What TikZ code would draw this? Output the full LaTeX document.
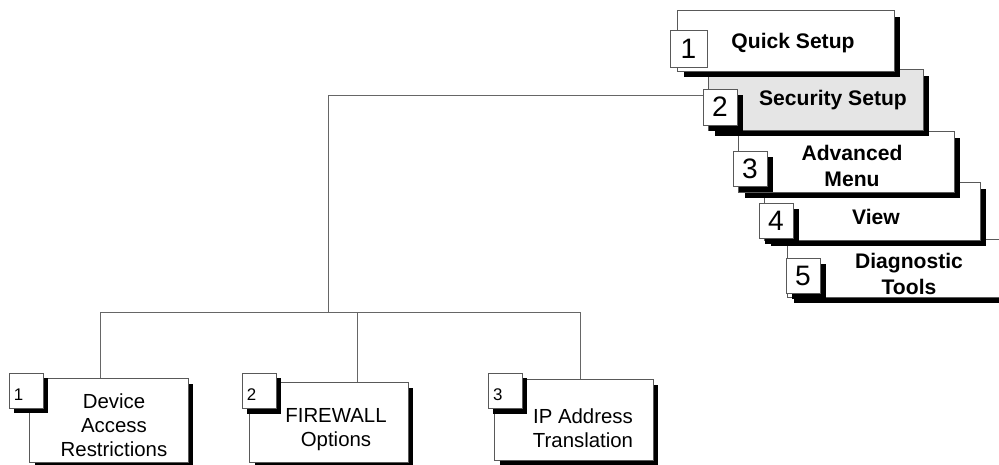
\documentclass[tikz,border=0pt]{standalone}
\usepackage{fontspec}
\setmainfont{Liberation Sans}
\usetikzlibrary{shadows}

\begin{document}
\begin{tikzpicture}[
  x=0.025cm, y=-0.025cm,
  solidshadow/.style={drop shadow={shadow xshift=#1, shadow yshift=-#1, fill=black, opacity=1}},
  menu/.style={draw=black!65, line width=0.7pt, fill=white, inner sep=0pt, minimum width=5.375cm, minimum height=1.5cm, solidshadow=0.15cm},
  menunum/.style={draw=black!65, line width=0.7pt, fill=white, inner sep=0pt, minimum width=0.85cm, minimum height=0.875cm, font=\fontsize{20}{24}\selectfont},
  menutxt/.style={align=center, inner sep=0pt, font=\bfseries\fontsize{15}{18}\selectfont},
  item/.style={draw=black!65, line width=0.7pt, fill=white, inner sep=0pt, minimum width=3.95cm, minimum height=2cm, solidshadow=0.125cm},
  itemnum/.style={draw=black!65, line width=0.7pt, fill=white, inner xsep=0.1cm, inner ysep=0pt, text width=0.6cm, align=left, minimum width=0.85cm, minimum height=0.875cm, text height=13.6pt, text depth=0pt, font=\fontsize{12}{14}\selectfont, solidshadow=0.125cm},
  itemtxt/.style={align=center, inner sep=0pt, font=\fontsize{14.5}{17}\selectfont},
  link/.style={draw=black!60, line width=0.7pt}
]
\useasboundingbox (0,0) rectangle (999,465);
\clip (0,0) rectangle (999,465);

% menu stack, lowest first
\node[menu, minimum height=1.425cm] (diagtools) at (895.5,268.5) {};
\node[menunum, solidshadow=0.15cm] (num5) at (803,275.5) {5};
\node[menu, minimum height=1.425cm] (view) at (872.5,211.5) {};
\node[menunum, solidshadow=0.15cm] (num4) at (776,220.5) {4};
\node[menu] (advmenu) at (846.5,162) {};
\node[menunum, solidshadow=0.15cm] (num3) at (750,168.5) {3};
\node[menu, fill=black!10, minimum width=5.35cm] (secsetup) at (816,100) {};
\node[menunum, minimum height=0.9cm, solidshadow=0.15cm] (num2) at (720,107) {2};
\node[menu, minimum width=5.4cm] (quicksetup) at (786,41) {};
\node[menunum, minimum width=0.925cm, minimum height=0.9cm] (num1) at (688.5,49) {1};

\node[menutxt] (diagtools-txt)  at (909,274) {Diagnostic\\Tools};
\node[menutxt] (view-txt)       at (876,217) {View};
\node[menutxt] (advmenu-txt)    at (852,166) {Advanced\\Menu};
\node[menutxt] (secsetup-txt)   at (833,100) {Security Setup};
\node[menutxt] (quicksetup-txt) at (793,43)  {Quick Setup};

% security setup items
\node[item, minimum height=2.075cm] (devacc) at (109,420.5) {};
\node[item, minimum height=1.975cm] (fwopts) at (329,422.5) {};
\node[item] (ipaddr) at (574,420) {};

\node[itemnum] (devacc-num) at (26,390.5) {1};
\node[itemnum] (fwopts-num) at (259,391)  {2};
\node[itemnum] (ipaddr-num) at (505,391)  {3};

\node[itemtxt] (devacc-txt) at (114,425) {Device\\Access\\Restrictions};
\node[itemtxt] (fwopts-txt) at (336,430) {FIREWALL\\Options};
\node[itemtxt] (ipaddr-txt) at (583,428) {IP Address\\Translation};

% tree lines
\coordinate (split) at (328,312);
\coordinate (j1) at (100,312);
\coordinate (j2) at (357,312);
\coordinate (j3) at (580,312);

\draw[link] (num2.147) -| (split);
\draw[link] (j1) -- (j3);
\foreach \j/\b in {j1/devacc, j2/fwopts, j3/ipaddr}
  \draw[link] (\j) -- (\j |- \b.north);

\end{tikzpicture}
\end{document}
